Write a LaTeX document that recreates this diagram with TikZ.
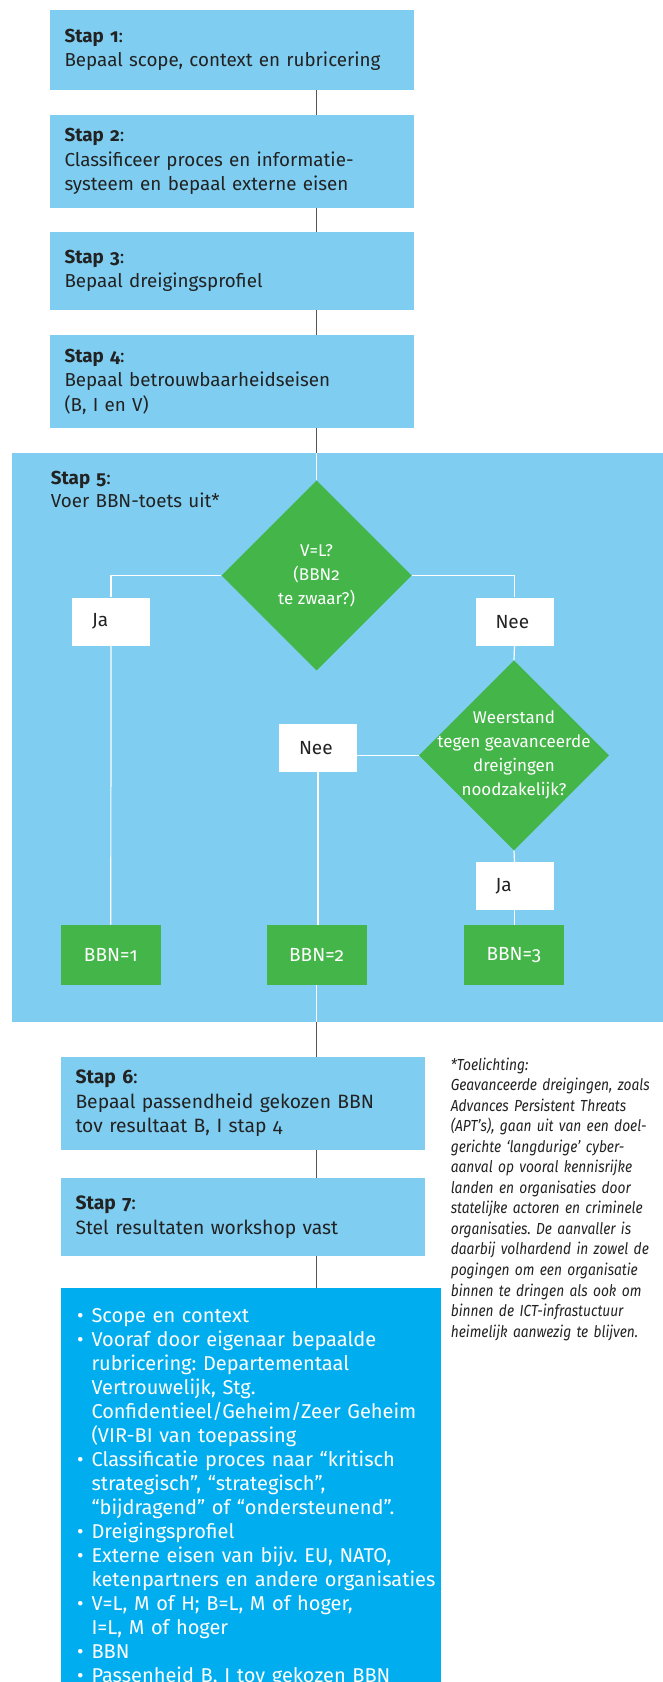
\documentclass[tikz,border=0pt]{standalone}
\usepackage{fontspec}
\setmainfont{Fira Sans}[Numbers=OldStyle]
\newfontfamily\notefont{Fira Sans}[Numbers=OldStyle, FakeStretch=0.86]
\usepackage{tikz}
\usetikzlibrary{positioning, shapes.geometric, calc}
\definecolor{stepblue}{RGB}{127, 206, 242}
\definecolor{listblue}{RGB}{0, 174, 239}
\definecolor{bbngreen}{RGB}{68, 182, 73}
\definecolor{linegrey}{RGB}{85, 85, 85}
\definecolor{textdark}{RGB}{34, 34, 34}
\frenchspacing
\newcommand{\listitem}[1]{\par\noindent\hangindent=14.3pt\hangafter=1\makebox[14.3pt][l]{\textbullet}#1}

\begin{document}
\begin{tikzpicture}[x=1pt, y=-1pt,
    stepbox/.style={fill=stepblue, text=textdark, minimum width=364, text width=335,
        inner xsep=14.5, inner ysep=0, align=left, font=\fontsize{18.8}{24.5}\selectfont},
    answer/.style={fill=white, text=textdark, minimum width=78, minimum height=48,
        text width=38, inner xsep=20, inner ysep=0, align=left, font=\fontsize{19}{22}\selectfont},
    decision/.style={diamond, fill=bbngreen, minimum width=190, minimum height=190, inner sep=0},
    dtext/.style={text=white, align=center, inner sep=0, font=\fontsize{17}{24}\selectfont},
    bbnbox/.style={fill=bbngreen, text=white, minimum width=100, minimum height=60,
        inner sep=0, font=\fontsize{19}{22}\selectfont},
    connector/.style={linegrey, line width=1.4pt},
    flow/.style={white, line width=1.2pt}]
    \useasboundingbox (0,0) rectangle (662,1682);

    % stappen 1 t/m 4
    \node[stepbox, minimum height=80] (stap1) at (232,50)
        {\textbf{Stap 1}:\\Bepaal scope, context en rubricering};
    \node[stepbox, minimum height=93] (stap2) at (232,161.5)
        {\textbf{Stap 2}:\\Classificeer proces en informatie-\\systeem en bepaal externe eisen};
    \node[stepbox, minimum height=78] (stap3) at (232,271)
        {\textbf{Stap 3}:\\Bepaal dreigingsprofiel};
    \node[stepbox, minimum height=93] (stap4) at (232,381.5)
        {\textbf{Stap 4}:\\Bepaal betrouwbaarheidseisen\\(B, I en V)};

    % stap 5: BBN-toets
    \node[fill=stepblue, minimum width=651, minimum height=569, anchor=north west, inner sep=0]
        (stap5) at (11.4,452.9) {};
    \node[text=textdark, text width=250, align=left, anchor=base west, inner sep=0,
        font=\fontsize{18.8}{22.5}\selectfont] (stap5tekst) at (50.7,484.6)
        {\textbf{Stap 5}:\\Voer BBN-toets uit*};
    \node[decision, label={[dtext]center:{V=L?\\(BBN2\\te zwaar?)}}] (vl) at (316.6,575.5) {};
    \node[answer] (ja1) at (111,621.6) {Ja};
    \node[answer] (nee1) at (514.5,621.6) {Nee};
    \node[decision, label={[dtext]center:{Weerstand\\tegen geavanceerde\\dreigingen\\noodzakelijk?}}]
        (apt) at (514,755.4) {};
    \node[answer] (nee2) at (318,748) {Nee};
    \node[answer] (ja2) at (514.5,886) {Ja};
    \node[bbnbox] (bbn1) at (110.8,954.8) {BBN=1};
    \node[bbnbox] (bbn2) at (316.6,954.8) {BBN=2};
    \node[bbnbox] (bbn3) at (513.8,954.8) {BBN=3};

    % stappen 6 en 7
    \node[stepbox, minimum height=93, font=\fontsize{19.3}{24.5}\selectfont] (stap6) at (243,1103.5)
        {\textbf{Stap 6}:\\Bepaal passendheid gekozen BBN\\tov resultaat B, I stap 4};
    \node[stepbox, minimum height=78, font=\fontsize{19.3}{24.5}\selectfont] (stap7) at (243,1217)
        {\textbf{Stap 7}:\\Stel resultaten workshop vast};

    % resultaat
    \node[fill=listblue, text=white, anchor=north west, minimum width=364, text width=348,
        inner xsep=16, inner ysep=10, align=left, font=\fontsize{20}{24}\selectfont]
        (resultaat) at (61,1288) {%
        \listitem{\mbox{Scope en context}}
        \listitem{\mbox{Vooraf door eigenaar bepaalde}\newline \mbox{rubricering: Departementaal}\newline
            \mbox{Vertrouwelijk, Stg.}\newline \mbox{Confidentieel/Geheim/Zeer Geheim}\newline
            \mbox{(VIR-BI van toepassing}}
        \listitem{\mbox{Classificatie proces naar “kritisch}\newline \mbox{strategisch”, “strategisch”,}\newline
            \mbox{“bijdragend” of “ondersteunend”.}}
        \listitem{\mbox{Dreigingsprofiel}}
        \listitem{\mbox{Externe eisen van bijv. EU, NATO,}\newline \mbox{ketenpartners en andere organisaties}}
        \listitem{\mbox{V=L, M of H; B=L, M of hoger,}\newline \mbox{I=L, M of hoger}}
        \listitem{\mbox{BBN}}
        \listitem{\mbox{Passenheid B, I tov gekozen BBN}}\par};

    % toelichting
    \node[text=textdark, anchor=base west, inner sep=0, text width=250, align=left,
        font=\notefont\fontsize{16}{20.55}\selectfont\itshape] (toelichting) at (450.6,1070)
        {*Toelichting:\\Geavanceerde dreigingen, zoals\\Advances Persistent Threats\\
        (APT’s), gaan uit van een doel-\\gerichte ‘langdurige’ cyber-\\
        aanval op vooral kennisrijke\\landen en organisaties door\\
        statelijke actoren en criminele\\organisaties. De aanvaller is\\
        daarbij volhardend in zowel de\\pogingen om een organisatie\\
        binnen te dringen als ook om\\binnen de ICT-infrastuctuur\\
        heimelijk aanwezig te blijven.};

    % verbindingen
    \draw[connector] (stap1.south -| vl.north) -- (stap2.north -| vl.north);
    \draw[connector] (stap2.south -| vl.north) -- (stap3.north -| vl.north);
    \draw[connector] (stap3.south -| vl.north) -- (stap4.north -| vl.north);
    \draw[connector] (stap4.south -| vl.north) -- (stap5.north -| vl.north);
    \draw[flow] (stap5.north -| vl.north) -- (vl.north);
    \draw[flow] (vl.west) -| (ja1.north);
    \draw[flow] (vl.east) -| (nee1.north);
    \draw[flow] (nee1.south) -- (apt.north);
    \draw[flow] (apt.west) -- (apt.west -| nee2.east);
    \draw[flow] (apt.south) -- (ja2.north);
    \draw[flow] (ja1.south) -- (bbn1.north);
    \draw[flow] (nee2.south) -- (nee2.south |- bbn2.north);
    \draw[flow] (ja2.south) -- (ja2.south |- bbn3.north);
    \draw[flow] (bbn2.south) -- (bbn2.south |- stap5.south);
    \draw[connector] (bbn2.south |- stap5.south) -- (bbn2.south |- stap6.north);
    \draw[connector] (stap6.south -| bbn2.south) -- (stap7.north -| bbn2.south);
    \draw[connector] (stap7.south -| bbn2.south) -- (resultaat.north -| bbn2.south);
\end{tikzpicture}
\end{document}
